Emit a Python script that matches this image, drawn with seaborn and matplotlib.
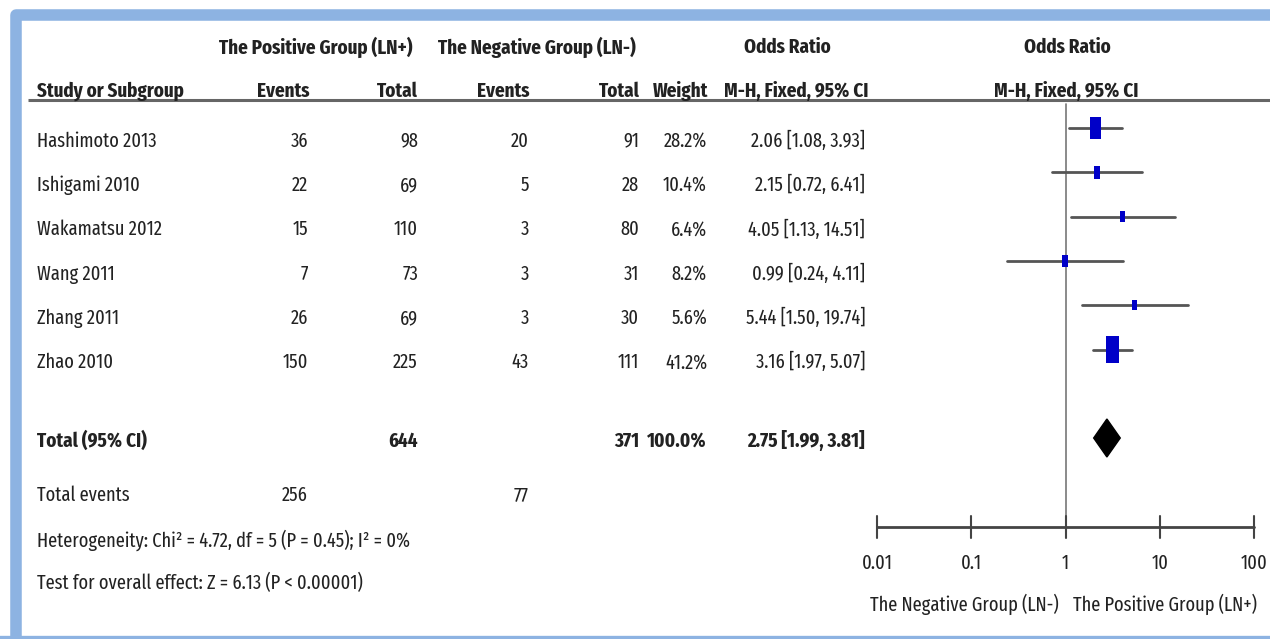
import os
import numpy as np
import pandas as pd
import matplotlib
matplotlib.use("Agg")
import matplotlib.pyplot as plt
from matplotlib.path import Path
from matplotlib.patches import Polygon
from matplotlib import font_manager as fm
import seaborn as sns

# ---------------- data ----------------
studies = ["Hashimoto 2013", "Ishigami 2010", "Wakamatsu 2012", "Wang 2011", "Zhang 2011", "Zhao 2010"]
pos_events = [36, 22, 15, 7, 26, 150]
pos_total = [98, 69, 110, 73, 69, 225]
neg_events = [20, 5, 3, 3, 3, 43]
neg_total = [91, 28, 80, 31, 30, 111]
weights = [28.2, 10.4, 6.4, 8.2, 5.6, 41.2]
odds = [2.06, 2.15, 4.05, 0.99, 5.44, 3.16]
ci_low = [1.08, 0.72, 1.13, 0.24, 1.50, 1.97]
ci_high = [3.93, 6.41, 14.51, 4.11, 19.74, 5.07]

total_pos = 644
total_neg = 371
total_weight = "100.0%"
total_or = 2.75
total_lo = 1.99
total_hi = 3.81
events_pos = 256
events_neg = 77
heterogeneity = "Heterogeneity: Chi\u00b2 = 4.72, df = 5 (P = 0.45); I\u00b2 = 0%"
overall = "Test for overall effect: Z = 6.13 (P < 0.00001)"
tick_vals = [0.01, 0.1, 1, 10, 100]
tick_labels = ["0.01", "0.1", "1", "10", "100"]
left_label = "The Negative Group (LN-)"
right_label = "The Positive Group (LN+)"

# ---------------- style ----------------
sns.set_theme(style="white")
plt.rcParams["font.family"] = ["Liberation Sans", "DejaVu Sans"]


def pick_condensed():
    rank_keys = [("extracondensed", 0), ("extra condensed", 0), ("narrow", 1),
                 ("semicondensed", 3), ("semi condensed", 3), ("ultracondensed", 4),
                 ("ultra condensed", 4), ("condensed", 2)]
    fams = {}
    for f in fm.fontManager.ttflist:
        n = f.name.lower()
        fn = os.path.basename(f.fname).lower()
        key = n + " " + fn
        if "italic" in key or "oblique" in f.style or "italic" in f.style:
            continue
        if "mono" in key or ("serif" in key and "sans" not in key):
            continue
        r = None
        for k, v in rank_keys:
            if k in key.replace("-", "").replace("_", "") or k in key:
                r = v
                break
        if r is None:
            st = str(f.stretch)
            if "condensed" in st:
                r = 2
            else:
                continue
        w = f.weight
        try:
            w = int(w)
        except Exception:
            w = {"normal": 400, "regular": 400, "bold": 700}.get(str(w), 0)
        fam = fams.setdefault((f.name, r), {})
        if w == 400 and "light" not in key and "medium" not in key and "thin" not in key:
            fam.setdefault("reg", f.fname)
        elif w == 700 and "semibold" not in key and "extrabold" not in key:
            fam.setdefault("bold", f.fname)
    best = None
    for (name, r), d in fams.items():
        if "reg" not in d:
            continue
        score = r + (0 if "bold" in d else 5)
        if best is None or score < best[0]:
            best = (score, d)
    return best[1] if best else None


cond = pick_condensed()
if cond:
    FP_REG = fm.FontProperties(fname=cond["reg"])
    FP_BOLD = fm.FontProperties(fname=cond.get("bold", cond["reg"]))
    if "bold" not in cond:
        FP_BOLD.set_weight("bold")
else:
    FP_REG = fm.FontProperties(family="Liberation Sans")
    FP_BOLD = fm.FontProperties(family="Liberation Sans", weight="bold")

W, H = 1270, 639
TC = "#222222"

fig = plt.figure(figsize=(W / 100, H / 100), dpi=100)
fig.patch.set_facecolor("white")
ax = fig.add_axes([0, 0, 1, 1])
ax.set_xlim(0, W)
ax.set_ylim(H, 0)
ax.axis("off")

# size fonts so text widths match the reference
renderer = fig.canvas.get_renderer()


def fit_size(s, fp, target):
    tt = ax.text(0, 0, s, fontproperties=fp, fontsize=10)
    wpx = tt.get_window_extent(renderer).width
    tt.remove()
    return min(22, 10 * target / wpx)


FS_REG = fit_size("Hashimoto 2013", FP_REG, 120)
FS_BOLD = fit_size("Study or Subgroup", FP_BOLD, 148)

# frame
fc = "#8db3e2"
ax.plot([15.5, 15.5, 1290], [660, 15, 15], color=fc, lw=8.3, solid_joinstyle="round",
        solid_capstyle="butt", zorder=1)
ax.plot([0, 1290], [640, 640], color=fc, lw=6, zorder=1)


def t(x, y, s, ha="left", bold=False):
    ax.text(x, y, s, ha=ha, va="center", fontproperties=FP_BOLD if bold else FP_REG,
            fontsize=FS_BOLD if bold else FS_REG, color=TC)


# headers
t(316, 47, "The Positive Group (LN+)", ha="center", bold=True)
t(537, 47, "The Negative Group (LN-)", ha="center", bold=True)
t(787, 47, "Odds Ratio", ha="center", bold=True)
t(1067, 47, "Odds Ratio", ha="center", bold=True)

hy = 91
t(37, hy, "Study or Subgroup", bold=True)
t(310, hy, "Events", ha="right", bold=True)
t(418, hy, "Total", ha="right", bold=True)
t(530, hy, "Events", ha="right", bold=True)
t(640, hy, "Total", ha="right", bold=True)
t(708, hy, "Weight", ha="right", bold=True)
t(868, hy, "M-H, Fixed, 95% CI", ha="right", bold=True)
t(1066, hy, "M-H, Fixed, 95% CI", ha="center", bold=True)
ax.plot([28, W], [100, 100], color="#666666", lw=2.2, solid_capstyle="butt", zorder=2)

# study rows
row0, dy = 141, 44.3
row_y = [row0 + i * dy for i in range(len(studies))]
for i, s in enumerate(studies):
    y = row_y[i]
    t(37, y, s)
    t(308, y, str(pos_events[i]), ha="right")
    t(418, y, str(pos_total[i]), ha="right")
    t(529, y, str(neg_events[i]), ha="right")
    t(639, y, str(neg_total[i]), ha="right")
    t(707, y, f"{weights[i]:.1f}%", ha="right")
    t(865, y, f"{odds[i]:.2f} [{ci_low[i]:.2f}, {ci_high[i]:.2f}]", ha="right")

ty = 441
t(37, ty, "Total (95% CI)", bold=True)
t(418, ty, str(total_pos), ha="right", bold=True)
t(639, ty, str(total_neg), ha="right", bold=True)
t(707, ty, total_weight, ha="right", bold=True)
t(865, ty, f"{total_or:.2f} [{total_lo:.2f}, {total_hi:.2f}]", ha="right", bold=True)

t(37, 495, "Total events")
t(308, 495, str(events_pos), ha="right")
t(529, 495, str(events_neg), ha="right")
t(37, 540, heterogeneity)
t(37, 583, overall)

# ---------------- forest panel ----------------
x0, x1 = 877, 1254
axf = fig.add_axes([x0 / W, 0, (x1 - x0) / W, 1])
axf.set_xscale("log")
axf.set_xlim(0.01, 100)
axf.set_ylim(H, 0)
axf.axis("off")
axf.patch.set_alpha(0)

axis_y = 527
axf.plot([1, 1], [104, axis_y], color="#777777", lw=1.2, zorder=1)

marker_y = [y - 13 for y in row_y]
ci_df = pd.DataFrame({
    "study": studies * 2,
    "x": ci_low + ci_high,
    "y": marker_y * 2,
})
sns.lineplot(data=ci_df, x="x", y="y", units="study", estimator=None, sort=False,
             color="#555555", lw=2, ax=axf, legend=False, zorder=2)

rect = Path([(-0.5, -1), (0.5, -1), (0.5, 1), (-0.5, 1), (-0.5, -1)],
            [Path.MOVETO, Path.LINETO, Path.LINETO, Path.LINETO, Path.CLOSEPOLY])
pt_df = pd.DataFrame({"or": odds, "y": marker_y, "w": weights})
size_map = {w: (0.72 * 4.1) ** 2 * w for w in weights}
sns.scatterplot(data=pt_df, x="or", y="y", size="w", sizes=size_map, marker=rect,
                color="#0000c8", linewidth=0, ax=axf, legend=False, zorder=3)

# diamond
dyc, dh = 438, 19
axf.add_patch(Polygon([(total_lo, dyc), (total_or, dyc - dh), (total_hi, dyc), (total_or, dyc + dh)],
                      closed=True, facecolor="black", edgecolor="black", zorder=3))

# axis
axf.plot([0.01, 100], [axis_y, axis_y], color="#444444", lw=2, zorder=2, clip_on=False)
for v, lab in zip(tick_vals, tick_labels):
    axf.plot([v, v], [axis_y - 11, axis_y + 11], color="#444444", lw=1.5, clip_on=False)
    axf.text(v, 563, lab, ha="center", va="center", fontproperties=FP_REG,
             fontsize=FS_REG, color=TC)

t(964, 604, left_label, ha="center")
t(1165, 604, right_label, ha="center")

fig.savefig("out.png", dpi=100, facecolor="white")
